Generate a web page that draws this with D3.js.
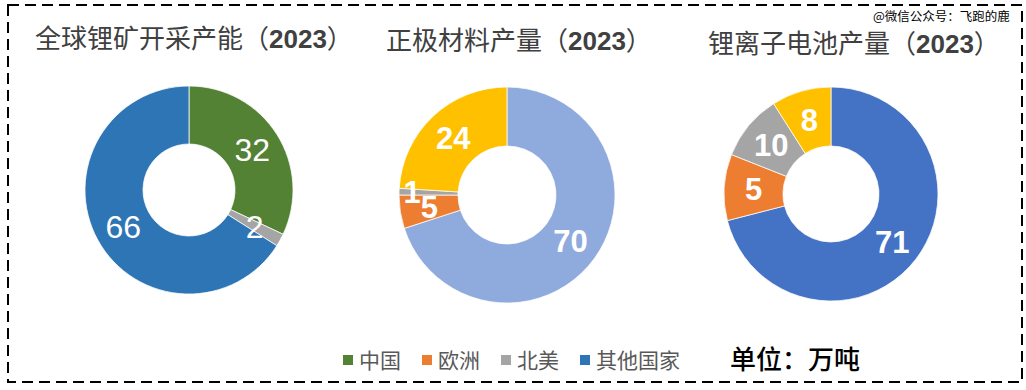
<!DOCTYPE html>
<html>
<head>
<meta charset="utf-8">
<script src="https://cdn.jsdelivr.net/npm/d3@7/dist/d3.min.js"></script>
<style>
  html, body { margin: 0; padding: 0; background: #fff; }
  svg { display: block; }
</style>
</head>
<body>
<div id="chart"></div>
<script>
/* data */
var legendNames = ["中国", "欧洲", "北美", "其他国家"];
var legendColors = ["#548235", "#ED7D31", "#A5A5A5", "#2E75B6"];

var mineValues = [32, 2, 66];                 // 中国, 北美, 其他国家
var mineLabels = ["32", "2", "66"];
var mineColors = ["#548235", "#A5A5A5", "#2E75B6"];

var cathodeValues = [70, 5, 1, 24];
var cathodeLabels = ["70", "5", "1", "24"];
var cathodeColors = ["#8FAADC", "#ED7D31", "#A5A5A5", "#FFC000"];

// slice sizes as drawn; labels as printed on the slices
var batteryValues = [71, 10, 10, 9];
var batteryLabels = ["71", "5", "10", "8"];
var batteryColors = ["#4472C4", "#ED7D31", "#A5A5A5", "#FFC000"];

var titles = ["全球锂矿开采产能", "正极材料产量", "锂离子电池产量"];
var titleYear = "2023";

/* size of the graphic */
var width = 1026, height = 390;
var cjk = "'Noto Sans CJK SC', 'Noto Sans', sans-serif";
var latin = "'Liberation Sans', Arial, sans-serif";

var svg = d3.select("#chart")
  .append("svg")
    .attr("width", width)
    .attr("height", height);

/* dashed frame */
svg.append("rect")
  .attr("x", 8).attr("y", 5)
  .attr("width", 1014).attr("height", 377)
  .attr("fill", "none")
  .attr("stroke", "#000")
  .attr("stroke-width", 2)
  .attr("stroke-dasharray", "11,6");

/* watermark */
svg.append("text")
  .attr("x", 873).attr("y", 21)
  .style("font-family", cjk)
  .style("font-size", "12.5px")
  .attr("fill", "#000")
  .text("@微信公众号：飞跑的鹿");

/* titles */
var titlePos = [[35, 48], [386, 50], [708, 53]];
titles.forEach(function(t, i) {
  var tx = svg.append("text")
    .attr("x", titlePos[i][0]).attr("y", titlePos[i][1])
    .style("font-family", cjk)
    .style("font-size", "26px")
    .attr("fill", "#404040");
  tx.append("tspan").text(t + "（");
  tx.append("tspan")
    .style("font-family", latin)
    .style("font-weight", "bold")
    .text(titleYear);
  tx.append("tspan").text("）");
});

/* one donut */
function renderDonut(values, labels, colors, cx, cy, outer, inner, bold) {
  var pie = d3.pie().sort(null).value(function(d) { return d; });
  var arcs = pie(values);
  var arc = d3.arc().innerRadius(inner).outerRadius(outer);
  var mid = (inner + outer) / 2;

  var g = svg.append("g").attr("transform", "translate(" + cx + "," + cy + ")");

  g.selectAll("path")
    .data(arcs)
    .enter().append("path")
      .attr("d", arc)
      .attr("fill", function(d, i) { return colors[i]; })
      .attr("stroke", "#fff")
      .attr("stroke-width", 0.75);

  g.selectAll("text")
    .data(arcs)
    .enter().append("text")
      .attr("transform", function(d) {
        // very thin slices get their label pushed outward
        var r = (d.value < 2) ? outer - 13 : mid;
        var a = (d.startAngle + d.endAngle) / 2;
        return "translate(" + (r * Math.sin(a)) + "," + (-r * Math.cos(a)) + ")";
      })
      .attr("text-anchor", "middle")
      .attr("dy", "0.36em")
      .style("font-family", latin)
      .style("font-size", bold ? "31px" : "32px")
      .style("font-weight", bold ? "bold" : "normal")
      .attr("fill", "#fff")
      .text(function(d, i) { return labels[i]; });
}

renderDonut(mineValues, mineLabels, mineColors, 189, 190, 104, 46, false);
renderDonut(cathodeValues, cathodeLabels, cathodeColors, 507, 195, 108, 49, true);
renderDonut(batteryValues, batteryLabels, batteryColors, 831, 194, 107, 48, true);

/* legend */
var lx = 343;
legendNames.forEach(function(name, i) {
  svg.append("rect")
    .attr("x", lx).attr("y", 355)
    .attr("width", 10).attr("height", 10)
    .attr("fill", legendColors[i]);
  var t = svg.append("text")
    .attr("x", lx + 16).attr("y", 368)
    .style("font-family", cjk)
    .style("font-size", "21px")
    .attr("fill", "#595959")
    .text(name);
  lx = lx + 16 + t.node().getComputedTextLength() + 21;
});

svg.append("text")
  .attr("x", 730).attr("y", 369)
  .style("font-family", cjk)
  .style("font-size", "26px")
  .style("font-weight", "500")
  .attr("fill", "#000")
  .text("单位：万吨");
</script>
</body>
</html>
